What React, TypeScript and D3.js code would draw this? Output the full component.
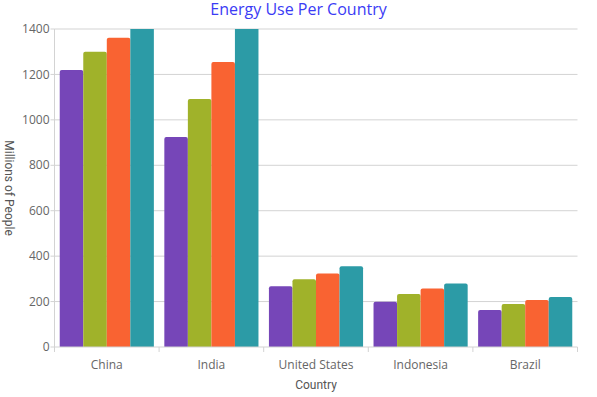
import React from "react";
import * as d3 from "d3";

const categories = ["China", "India", "United States", "Indonesia", "Brazil"];
const seriesNames = ["S1", "S2", "S3", "S4"];
const s1 = [1220, 925, 268, 199, 163];
const s2 = [1300, 1092, 298, 233, 189];
const s3 = [1362, 1255, 324, 258, 207];
const s4 = [1450, 1440, 355, 280, 220];
const seriesValues = [s1, s2, s3, s4];
const colors = ["#7646b8", "#a0b22a", "#f96332", "#2c9ba6"];
const yTicks = [0, 200, 400, 600, 800, 1000, 1200, 1400];

const W = 597, H = 397;
const M = { left: 54.5, right: 19.5, top: 29, bottom: 50 };

export default function App() {
  const x = d3.scaleBand().domain(categories).range([M.left, W - M.right]).paddingInner(0.1).paddingOuter(0.05);
  const xOuter = d3.scaleBand().domain(categories).range([M.left, W - M.right]);
  const y = d3.scaleLinear().domain([0, 1400]).range([H - M.bottom, M.top]);
  const x1 = d3.scaleBand().domain(seriesNames).range([0, x.bandwidth()]);
  const font = "'Open Sans', sans-serif";
  const y0 = y(0);
  return (
    <svg width={W} height={H} style={{ position: "absolute", left: 0, top: 0 }}>
      <defs>
        <clipPath id="plot">
          <rect x={M.left} y={M.top} width={W - M.left - M.right} height={y0 - M.top} />
        </clipPath>
      </defs>
      <text x={W / 2} y={15} textAnchor="middle" fill="#3b3bf5" fontFamily={font} fontSize={16}>Energy Use Per Country</text>
      {yTicks.map((t) => (
        <g key={t}>
          {t > 0 && <line x1={M.left} x2={W - M.right} y1={y(t)} y2={y(t)} stroke="#d3d3d3" strokeWidth={1} />}
          <line x1={M.left - 4} x2={M.left} y1={y(t)} y2={y(t)} stroke="#d3d3d3" />
          <text x={M.left - 5} y={y(t)} dy="0.35em" textAnchor="end" fill="#666" fontFamily={font} fontSize={12}>{t}</text>
        </g>
      ))}
      <g clipPath="url(#plot)">
        {categories.map((c, i) => (
          <g key={c} transform={`translate(${x(c)},0)`}>
            {seriesValues.map((vals, j) => {
              const bx = x1(seriesNames[j])!;
              const top = y(vals[i]);
              return (
                <rect key={j} x={bx} y={top} width={x1.bandwidth()} height={y0 - top + 3} rx={2} ry={2} fill={colors[j]} />
              );
            })}
          </g>
        ))}
      </g>
      <rect x={M.left} y={y0} width={W - M.left - M.right} height={3} fill="#fff" />
      <line x1={M.left} x2={M.left} y1={M.top} y2={y0 + 5} stroke="#d3d3d3" />
      <line x1={M.left} x2={W - M.right} y1={y0} y2={y0} stroke="#d3d3d3" />
      {categories.map((c) => (
        <g key={c}>
          <line x1={xOuter(c)! + xOuter.bandwidth()} x2={xOuter(c)! + xOuter.bandwidth()} y1={y0} y2={y0 + 5} stroke="#d3d3d3" />
          <text x={xOuter(c)! + xOuter.bandwidth() / 2} y={y0 + 22} textAnchor="middle" fill="#666" fontFamily={font} fontSize={12}>{c}</text>
        </g>
      ))}
      <text x={(M.left + W - M.right) / 2} y={389} textAnchor="middle" fill="#555" fontFamily="Roboto, sans-serif" fontSize={12}>Country</text>
      <text transform={`translate(5,${(M.top + y0) / 2}) rotate(90)`} textAnchor="middle" fill="#555" fontFamily="Roboto, sans-serif" fontSize={12}>Millions of People</text>
    </svg>
  );
}
